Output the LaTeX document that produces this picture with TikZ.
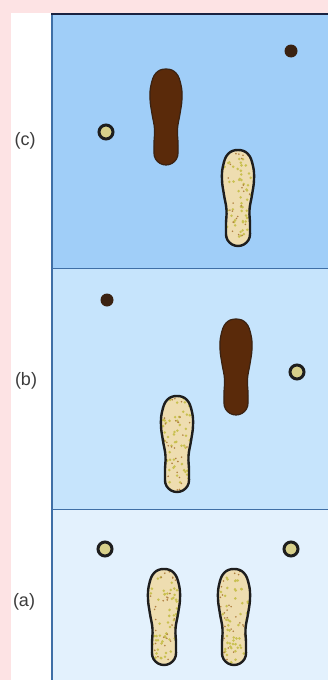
\documentclass[tikz,border=0pt]{standalone}
\usepackage{fontspec}
\setsansfont{Liberation Sans}
\definecolor{pinkbg}{HTML}{FDE3E4}
\definecolor{panelC}{HTML}{A0CEF8}
\definecolor{panelB}{HTML}{C6E4FC}
\definecolor{panelA}{HTML}{E3F1FD}
\definecolor{edgeline}{HTML}{3F6FA6}
\definecolor{topline}{HTML}{1A2240}
\definecolor{tan}{HTML}{EEDDB0}
\definecolor{dotfill}{HTML}{D8D08A}
\definecolor{speckG}{HTML}{C9C050}
\definecolor{speckB}{HTML}{B08040}
\definecolor{rimcol}{HTML}{1E1E1E}
\definecolor{darksole}{HTML}{5A2A0A}
\definecolor{darkdot}{HTML}{3A2212}
\definecolor{labelgray}{HTML}{3C3C3C}

% outline of one sole, toe up, centred on the origin (y grows downward)
\newcommand\solepath{plot[smooth cycle,tension=0.7] coordinates {
  (0,-48) (10,-44) (15,-32) (16,-18) (14,-3) (11.5,12) (12,28) (10.5,42) (0,48)
  (-10.5,42) (-12,28) (-11.5,12) (-14,-3) (-16,-18) (-15,-32) (-10,-44)}}

\tikzset{
  lightsole/.pic={
    \fill[tan] \solepath;
    \begin{scope}
      \clip \solepath;
      \pgfmathsetseed{#1}
      \foreach \i in {1,...,55}{
        \pgfmathsetmacro\sx{rand*14}
        \pgfmathsetmacro\sy{rand*46}
        \fill[speckG] (\sx,\sy) circle (1.4);
      }
      \foreach \i in {1,...,30}{
        \pgfmathsetmacro\sx{rand*14}
        \pgfmathsetmacro\sy{rand*46}
        \fill[speckB] (\sx,\sy) circle (0.9);
      }
    \end{scope}
    \draw[rimcol,line width=2.4pt] \solepath;
  },
  darksolepic/.pic={
    \fill[darksole,draw=darkdot,line width=1.2pt] \solepath;
  },
  lightmark/.style={circle,fill=dotfill,draw=rimcol,line width=3pt,minimum size=14pt,inner sep=0pt},
  darkmark/.style={circle,fill=darkdot,minimum size=13pt,inner sep=0pt},
  panellabel/.style={font=\sffamily\fontsize{18}{20}\selectfont,text=labelgray,inner sep=0pt},
}

\begin{document}
\begin{tikzpicture}[x=1pt,y=-1pt]
  \useasboundingbox (0,0) rectangle (328,680);
  % background, label strip and the three panels
  \fill[pinkbg] (0,0) rectangle (328,680);
  \fill[white] (11,13) rectangle (52,680);
  \fill[panelC] (52,13) rectangle (328,268);
  \fill[panelB] (52,268) rectangle (328,509);
  \fill[panelA] (52,509) rectangle (328,680);
  \draw[edgeline,line width=1pt] (52,268) -- (328,268);
  \draw[edgeline,line width=1pt] (52,509) -- (328,509);
  \draw[edgeline,line width=2pt] (52,13) -- (52,680);
  \draw[topline,line width=2pt] (51,14) -- (328,14);

  % panel labels
  \node[panellabel] (labc) at (25,141) {(c)};
  \node[panellabel] (labb) at (26,381) {(b)};
  \node[panellabel] (laba) at (24,602) {(a)};

  % (c)
  \node[darkmark] (c1) at (291,51) {};
  \node[lightmark] (c2) at (106,132) {};
  \pic at (166,117) {darksolepic};
  \pic at (238,198) {lightsole=11};

  % (b)
  \node[darkmark] (b1) at (107,300) {};
  \node[lightmark] (b2) at (297,372) {};
  \pic at (236,367) {darksolepic};
  \pic at (177,444) {lightsole=23};

  % (a)
  \node[lightmark] (a1) at (105,549) {};
  \node[lightmark] (a2) at (291,549) {};
  \pic at (164,617) {lightsole=37};
  \pic at (234,617) {lightsole=41};
\end{tikzpicture}
\end{document}
